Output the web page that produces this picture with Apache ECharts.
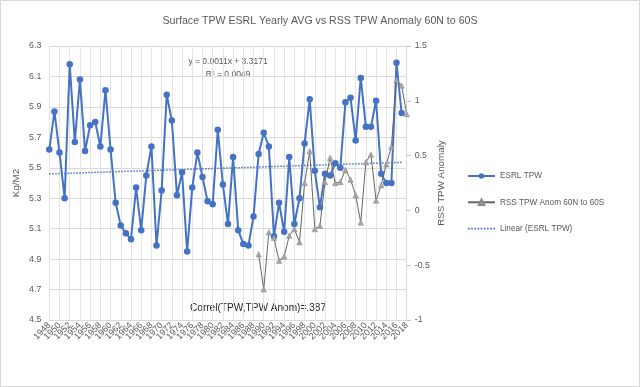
<!DOCTYPE html>
<html>
<head>
<meta charset="utf-8">
<script src="https://cdn.jsdelivr.net/npm/echarts@6/dist/echarts.min.js"></script>
<style>html,body{margin:0;padding:0;background:#fff;}#c{width:640px;height:387px;}</style>
</head>
<body>
<div id="c"></div>
<script>
const years = ['1948','1949','1950','1951','1952','1953','1954','1955','1956','1957','1958','1959','1960','1961','1962','1963','1964','1965','1966','1967','1968','1969','1970','1971','1972','1973','1974','1975','1976','1977','1978','1979','1980','1981','1982','1983','1984','1985','1986','1987','1988','1989','1990','1991','1992','1993','1994','1995','1996','1997','1998','1999','2000','2001','2002','2003','2004','2005','2006','2007','2008','2009','2010','2011','2012','2013','2014','2015','2016','2017','2018'];
// ESRL TPW yearly average, 1948-2017 (Kg/M2)
const esrlTPW = [5.62,5.87,5.60,5.30,6.18,5.67,6.08,5.61,5.78,5.80,5.64,6.01,5.62,5.27,5.12,5.07,5.03,5.37,5.09,5.45,5.64,4.99,5.35,5.98,5.81,5.32,5.47,4.95,5.37,5.60,5.44,5.28,5.26,5.75,5.39,5.13,5.57,5.09,5.00,4.99,5.18,5.59,5.73,5.64,5.05,5.27,5.08,5.57,5.13,5.30,5.66,5.95,5.48,5.24,5.46,5.45,5.53,5.50,5.93,5.96,5.68,6.09,5.77,5.77,5.94,5.46,5.40,5.40,6.19,5.86];
// RSS TPW anomaly 60N to 60S, starting 1989
const rssStartYear = '1989';
const rssAnom = [-0.40,-0.72,-0.20,-0.25,-0.46,-0.42,-0.23,-0.17,-0.29,0.25,0.54,-0.17,-0.14,0.26,0.48,0.25,0.26,0.37,0.28,0.14,-0.11,0.44,0.51,0.09,0.23,0.42,0.58,1.19,1.14,0.88];
// Linear trendline (Excel): y = 0.0011x + 3.3171
const trendSlope = 0.0011, trendIntercept = 3.3171;
const leftTicks = ['4.5','4.7','4.9','5.1','5.3','5.5','5.7','5.9','6.1','6.3'];

const LBASE = 4.5; // left axis origin
const FONT = "'Liberation Sans',Arial,sans-serif";
const esrlData = years.map((y,i)=> i < esrlTPW.length ? +(esrlTPW[i]-LBASE).toFixed(4) : null);
const rssOff = years.indexOf(rssStartYear);
const rssData = years.map((y,i)=> (i>=rssOff && i-rssOff < rssAnom.length) ? rssAnom[i-rssOff] : null);
const lastE = esrlTPW.length-1;
const trendData = years.map((y,i)=> (i===0 || i===lastE) ? (trendSlope*(+y)+trendIntercept-LBASE) : null);

// dotted-line legend icon
let dots = '';
for (let x=0; x<27; x+=3) dots += 'M'+x+' 0h1.6v1.6h-1.6z';

const chart = echarts.init(document.getElementById('c'), null, {renderer:'canvas'});
chart.setOption({
  animation:false,
  backgroundColor:'#ffffff',
  textStyle:{fontFamily:FONT},
  title:{text:'Surface TPW ESRL Yearly AVG vs RSS TPW Anomaly 60N to 60S', left:'center', top:11,
    textStyle:{fontFamily:FONT, fontSize:10.6, fontWeight:'normal', color:'#595959'}},
  grid:{left:49.3, right:233.3, top:46, bottom:67},
  legend:{orient:'vertical', left:462, top:167, itemWidth:27, itemHeight:7, itemGap:18.3,
    textStyle:{fontFamily:FONT, fontSize:8.2, color:'#595959'},
    data:['ESRL TPW','RSS TPW Anom 60N to 60S',{name:'Linear (ESRL TPW)', icon:'path://'+dots}]},
  xAxis:{type:'category', data:years, boundaryGap:false,
    axisLine:{lineStyle:{color:'#d9d9d9'}}, axisTick:{show:false},
    axisLabel:{interval:0, rotate:45, fontFamily:FONT, fontSize:9, color:'#595959', margin:4,
      formatter:(v,i)=> (i%2===0 ? v : '')},
    splitLine:{show:true, interval:1, lineStyle:{color:'#e3e3e3', width:1}}},
  yAxis:[
    {type:'value', min:0, max:1.8, interval:0.2,
     name:'Kg/M2', nameLocation:'middle', nameGap:28, nameRotate:90, nameMoveOverlap:false,
     nameTextStyle:{fontFamily:FONT, fontSize:9.8, color:'#595959'},
     axisLine:{show:false}, axisTick:{show:false},
     axisLabel:{fontFamily:FONT, fontSize:8.8, color:'#595959', margin:8,
       formatter:(v)=> leftTicks[Math.round(v/0.2)] || ''},
     splitLine:{lineStyle:{color:'#d9d9d9'}}},
    {type:'value', position:'right', min:-1, max:1.5, interval:0.5,
     name:'RSS TPW Anomaly', nameLocation:'middle', nameGap:30, nameRotate:90, nameMoveOverlap:false,
     nameTextStyle:{fontFamily:FONT, fontSize:9.8, color:'#595959'},
     axisLine:{show:true, lineStyle:{color:'#d9d9d9'}},
     axisTick:{show:true, length:4, lineStyle:{color:'#bfbfbf'}},
     axisLabel:{fontFamily:FONT, fontSize:8.8, color:'#595959', margin:8},
     splitLine:{show:false}}
  ],
  series:[
    {name:'ESRL TPW', type:'line', yAxisIndex:0, data:esrlData, showAllSymbol:true,
     symbol:'circle', symbolSize:6.5, lineStyle:{color:'#4472C4', width:2},
     itemStyle:{color:'#4472C4'}, z:3},
    {name:'RSS TPW Anom 60N to 60S', type:'line', yAxisIndex:1, data:rssData, showAllSymbol:true,
     symbol:'triangle', symbolSize:5.5, lineStyle:{color:'#666666', width:1},
     itemStyle:{color:'#a5a5a5', borderColor:'#8a8a8a', borderWidth:0.5}, z:4},
    {name:'Linear (ESRL TPW)', type:'line', yAxisIndex:0, data:trendData, connectNulls:true,
     symbol:'none', lineStyle:{color:'#4472C4', width:1.5, type:'dotted'},
     itemStyle:{color:'#4472C4'}, z:2}
  ],
  graphic:[
    {type:'rect', shape:{x:0.5,y:0.5,width:639,height:386}, style:{fill:null, stroke:'#d9d9d9', lineWidth:1}, silent:true},
    {type:'text', x:228, y:62, style:{text:'y = 0.0011x + 3.3171', fontFamily:FONT, fontSize:8.5, fill:'#595959', align:'center', verticalAlign:'middle'}},
    {type:'text', x:228, y:75, style:{text:'R² = 0.0049', fontFamily:FONT, fontSize:8.5, fill:'#595959', align:'center', verticalAlign:'middle'}},
    {type:'text', x:258, y:308, style:{text:'Correl(TPW,TPW Anom)=.387', fontFamily:FONT, fontSize:10.1, fill:'#262626', align:'center', verticalAlign:'middle'}}
  ]
});
</script>
</body>
</html>
